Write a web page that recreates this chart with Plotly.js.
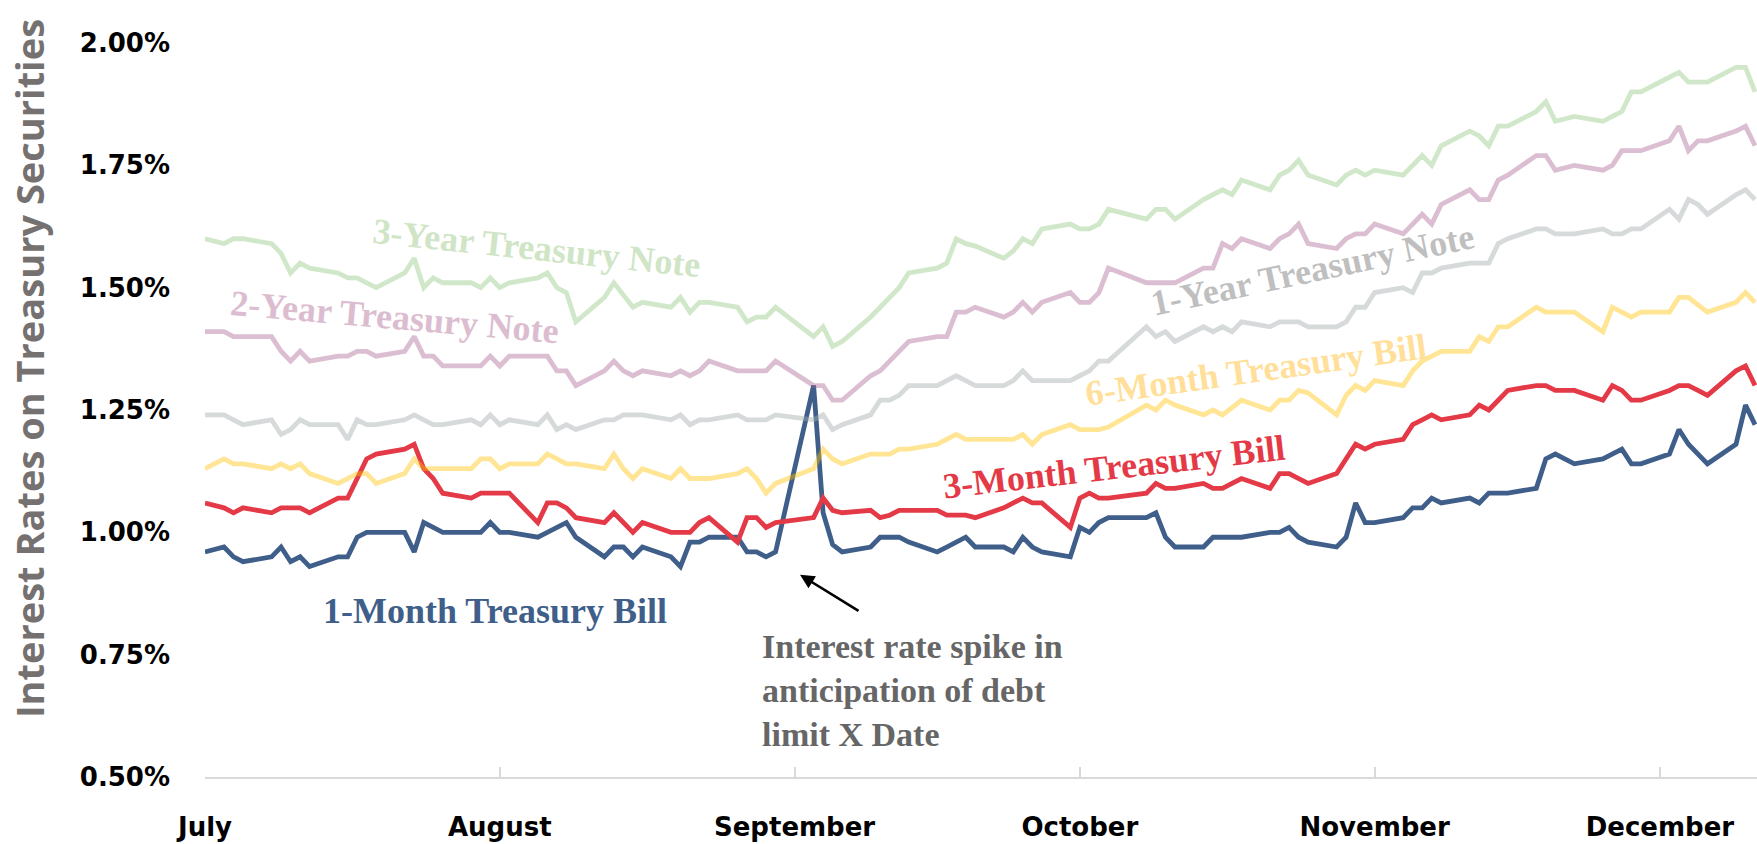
<!DOCTYPE html>
<html>
<head>
<meta charset="utf-8">
<script src="https://cdn.plot.ly/plotly-3.0.1.min.js"></script>
<style>
  html, body { margin: 0; padding: 0; background: #ffffff; }
  #chart { width: 1757px; height: 844px; }
</style>
</head>
<body>
<div id="chart"></div>
<script>
// Trading dates (Jul 3 – Dec 13, 2017)
const dates = [
  '2017-07-03','2017-07-05','2017-07-06','2017-07-07','2017-07-10','2017-07-11','2017-07-12','2017-07-13','2017-07-14','2017-07-17','2017-07-18','2017-07-19','2017-07-20','2017-07-21','2017-07-24','2017-07-25','2017-07-26','2017-07-27','2017-07-28','2017-07-31',
  '2017-08-01','2017-08-02','2017-08-03','2017-08-04','2017-08-07','2017-08-08','2017-08-09','2017-08-10','2017-08-11','2017-08-14','2017-08-15','2017-08-16','2017-08-17','2017-08-18','2017-08-21','2017-08-22','2017-08-23','2017-08-24','2017-08-25','2017-08-28','2017-08-29','2017-08-30','2017-08-31',
  '2017-09-01','2017-09-05','2017-09-06','2017-09-07','2017-09-08','2017-09-11','2017-09-12','2017-09-13','2017-09-14','2017-09-15','2017-09-18','2017-09-19','2017-09-20','2017-09-21','2017-09-22','2017-09-25','2017-09-26','2017-09-27','2017-09-28','2017-09-29',
  '2017-10-02','2017-10-03','2017-10-04','2017-10-05','2017-10-06','2017-10-10','2017-10-11','2017-10-12','2017-10-13','2017-10-16','2017-10-17','2017-10-18','2017-10-19','2017-10-20','2017-10-23','2017-10-24','2017-10-25','2017-10-26','2017-10-27','2017-10-30','2017-10-31',
  '2017-11-01','2017-11-02','2017-11-03','2017-11-06','2017-11-07','2017-11-08','2017-11-09','2017-11-10','2017-11-13','2017-11-14','2017-11-15','2017-11-16','2017-11-17','2017-11-20','2017-11-21','2017-11-22','2017-11-24','2017-11-27','2017-11-28','2017-11-29','2017-11-30',
  '2017-12-01','2017-12-04','2017-12-05','2017-12-06','2017-12-07','2017-12-08','2017-12-11','2017-12-12','2017-12-13'
];

// Interest rates (%)
const oneMonth = [
  0.96,0.97,0.95,0.94,0.95,0.97,0.94,0.95,0.93,0.95,0.95,0.99,1.00,1.00,1.00,0.96,1.02,1.01,1.00,1.00,
  1.00,1.02,1.00,1.00,0.99,1.00,1.01,1.02,0.99,0.95,0.97,0.97,0.95,0.97,0.95,0.93,0.98,0.98,0.99,0.99,0.96,0.96,0.95,
  0.96,1.30,1.04,0.975,0.96,0.97,0.99,0.99,0.99,0.98,0.96,0.97,0.98,0.99,0.97,0.97,0.96,0.99,0.97,0.96,
  0.95,1.01,1.00,1.02,1.03,1.03,1.04,0.99,0.97,0.97,0.99,0.99,0.99,0.99,1.00,1.00,1.01,0.99,0.98,0.97,0.99,
  1.06,1.02,1.02,1.03,1.05,1.05,1.07,1.06,1.07,1.06,1.08,1.08,1.08,1.09,1.15,1.16,1.14,1.15,1.16,1.17,1.14,
  1.14,1.16,1.21,1.18,1.16,1.14,1.18,1.26,1.22
];
const threeMonth = [
  1.06,1.05,1.04,1.05,1.04,1.05,1.05,1.05,1.04,1.07,1.07,1.11,1.15,1.16,1.17,1.18,1.13,1.11,1.08,1.07,
  1.08,1.08,1.08,1.08,1.02,1.06,1.06,1.05,1.03,1.02,1.04,1.02,1.00,1.02,1.00,1.00,1.00,1.02,1.03,0.98,1.03,1.03,1.01,
  1.02,1.03,1.07,1.045,1.04,1.045,1.03,1.035,1.045,1.045,1.045,1.035,1.035,1.035,1.03,1.05,1.06,1.07,1.06,1.06,
  1.01,1.07,1.08,1.07,1.07,1.08,1.10,1.09,1.09,1.10,1.09,1.09,1.10,1.11,1.09,1.12,1.12,1.11,1.10,1.12,1.15,
  1.18,1.17,1.18,1.19,1.22,1.23,1.24,1.23,1.24,1.26,1.25,1.27,1.29,1.30,1.30,1.29,1.29,1.27,1.30,1.29,1.27,
  1.27,1.29,1.30,1.30,1.29,1.28,1.33,1.34,1.30
];
const sixMonth = [
  1.13,1.15,1.14,1.14,1.13,1.14,1.13,1.14,1.12,1.10,1.11,1.12,1.12,1.10,1.12,1.15,1.13,1.13,1.13,1.13,
  1.15,1.15,1.13,1.14,1.14,1.16,1.15,1.14,1.14,1.13,1.16,1.13,1.11,1.13,1.11,1.13,1.11,1.11,1.11,1.12,1.13,1.11,1.08,
  1.10,1.13,1.17,1.15,1.14,1.16,1.16,1.16,1.17,1.17,1.18,1.19,1.20,1.19,1.19,1.19,1.19,1.20,1.18,1.20,
  1.22,1.21,1.21,1.21,1.215,1.26,1.25,1.27,1.26,1.24,1.25,1.24,1.255,1.27,1.25,1.27,1.27,1.29,1.285,1.24,1.28,
  1.30,1.29,1.31,1.30,1.33,1.35,1.36,1.37,1.37,1.40,1.39,1.42,1.42,1.46,1.45,1.45,1.45,1.41,1.46,1.45,1.44,
  1.45,1.45,1.48,1.48,1.465,1.45,1.47,1.49,1.47
];
const oneYear = [
  1.24,1.24,1.23,1.22,1.23,1.20,1.21,1.23,1.22,1.22,1.19,1.23,1.22,1.22,1.23,1.24,1.23,1.22,1.22,1.23,
  1.22,1.24,1.22,1.23,1.22,1.24,1.21,1.22,1.21,1.23,1.23,1.24,1.24,1.24,1.23,1.24,1.22,1.23,1.23,1.24,1.23,1.23,1.23,
  1.24,1.23,1.24,1.21,1.22,1.24,1.27,1.27,1.28,1.30,1.30,1.31,1.32,1.31,1.30,1.30,1.31,1.33,1.31,1.31,
  1.31,1.32,1.33,1.35,1.35,1.42,1.40,1.41,1.39,1.42,1.41,1.42,1.41,1.43,1.42,1.43,1.43,1.43,1.42,1.42,1.43,
  1.46,1.46,1.49,1.50,1.49,1.53,1.53,1.54,1.55,1.55,1.55,1.59,1.60,1.62,1.62,1.61,1.61,1.62,1.61,1.61,1.62,
  1.62,1.66,1.64,1.68,1.67,1.65,1.69,1.70,1.68
];
const twoYear = [
  1.41,1.41,1.40,1.40,1.40,1.37,1.35,1.37,1.35,1.36,1.36,1.37,1.37,1.36,1.37,1.40,1.36,1.36,1.34,1.34,
  1.34,1.36,1.34,1.36,1.36,1.36,1.33,1.33,1.30,1.33,1.35,1.33,1.32,1.33,1.32,1.33,1.32,1.33,1.35,1.33,1.33,1.33,1.33,
  1.35,1.30,1.30,1.27,1.27,1.32,1.33,1.35,1.37,1.39,1.40,1.40,1.45,1.45,1.46,1.44,1.45,1.47,1.45,1.47,
  1.49,1.47,1.47,1.49,1.54,1.51,1.51,1.51,1.51,1.54,1.54,1.59,1.58,1.60,1.58,1.60,1.61,1.63,1.59,1.58,1.60,
  1.61,1.61,1.63,1.61,1.63,1.65,1.63,1.67,1.70,1.68,1.68,1.72,1.73,1.77,1.77,1.74,1.75,1.74,1.75,1.78,1.78,
  1.78,1.80,1.83,1.78,1.80,1.80,1.82,1.83,1.79
];
const threeYear = [
  1.60,1.59,1.60,1.60,1.59,1.57,1.53,1.55,1.54,1.53,1.52,1.52,1.51,1.50,1.53,1.56,1.50,1.52,1.51,1.51,
  1.50,1.52,1.50,1.51,1.52,1.53,1.50,1.49,1.43,1.48,1.51,1.485,1.46,1.47,1.46,1.48,1.45,1.47,1.47,1.46,1.43,1.44,1.44,
  1.46,1.40,1.42,1.38,1.39,1.44,1.46,1.48,1.50,1.53,1.54,1.55,1.60,1.59,1.585,1.56,1.575,1.60,1.59,1.62,
  1.63,1.62,1.62,1.63,1.66,1.64,1.66,1.66,1.64,1.68,1.69,1.70,1.69,1.72,1.70,1.73,1.74,1.76,1.73,1.71,1.73,
  1.74,1.73,1.74,1.73,1.75,1.77,1.75,1.79,1.82,1.81,1.79,1.83,1.83,1.86,1.88,1.84,1.85,1.84,1.85,1.86,1.90,
  1.90,1.93,1.94,1.92,1.92,1.92,1.95,1.95,1.90
];

const seriesNames = ['1-Month Treasury Bill','3-Month Treasury Bill','6-Month Treasury Bill','1-Year Treasury Note','2-Year Treasury Note','3-Year Treasury Note'];

// Axis ticks
const monthTickDates = ['2017-07-03','2017-08-03','2017-09-03','2017-10-03','2017-11-03','2017-12-03'];
const monthTickLabels = ['July','August','September','October','November','December'];
const rateTickVals = [0.5,0.75,1.0,1.25,1.5,1.75,2.0];
const rateTickLabels = ['0.50%','0.75%','1.00%','1.25%','1.50%','1.75%','2.00%'];

const calloutText = 'Interest rate spike in<br>anticipation of debt<br>limit X Date';
const yTitle = 'Interest Rates on Treasury Securities';

// styles
const lineColors = ['#3f5f8a','#e43a47','rgba(255,192,0,0.42)','rgba(165,172,175,0.45)','rgba(166,92,140,0.40)','rgba(120,190,100,0.35)'];
const labelColors = ['#3f5f8a','#e43a47','#ffdf99','#bfbfbf','#dcbdd0','#cfe5c6'];
const seriesValues = [oneMonth, threeMonth, sixMonth, oneYear, twoYear, threeYear];

const traces = seriesValues.map((vals, i) => ({
  type: 'scatter',
  mode: 'lines',
  name: seriesNames[i],
  x: dates,
  y: vals,
  line: { color: lineColors[i], width: 4.8, shape: 'linear' },
  hoverinfo: 'skip'
}));

const serif = 'Liberation Serif, Times New Roman, serif';
// label placements (paper coords) and angles
const labelPos = [
  { x: 0.1869, y: 0.2260, a: 0 },
  { x: 0.5857, y: 0.4223, a: -6.5 },
  { x: 0.6772, y: 0.5546, a: -8 },
  { x: 0.7133, y: 0.6910, a: -12 },
  { x: 0.1218, y: 0.6268, a: 5 },
  { x: 0.2133, y: 0.7208, a: 6 }
];

const annotations = seriesNames.map((n, i) => ({
  xref: 'paper', yref: 'paper',
  x: labelPos[i].x, y: labelPos[i].y,
  xanchor: 'center', yanchor: 'middle',
  text: n, showarrow: false, textangle: labelPos[i].a,
  font: { family: serif, size: 36, color: labelColors[i], weight: 'bold' }
}));

annotations.push({
  xref: 'paper', yref: 'paper',
  x: 0.3576, y: 0.1181, xanchor: 'left', yanchor: 'middle', align: 'left',
  text: calloutText, showarrow: false,
  font: { family: serif, size: 34, color: '#666666', weight: 'bold' }
});
annotations.push({
  xref: 'paper', yref: 'paper',
  x: 0.3834, y: 0.2755, text: '', showarrow: true,
  ax: 60, ay: 37, arrowhead: 2, arrowsize: 1.1, arrowwidth: 2.6, arrowcolor: '#000000'
});
annotations.push({
  xref: 'paper', yref: 'paper',
  x: -0.1134, y: 0.5559, xanchor: 'center', yanchor: 'middle',
  text: yTitle, showarrow: false, textangle: -90,
  font: { family: 'Open Sans, sans-serif', size: 38, color: '#757171', weight: 'bold' }
});

const tickFont = { family: 'DejaVu Sans, sans-serif', size: 26, color: '#000000', weight: 'bold' };

const layout = {
  width: 1757, height: 844,
  margin: { l: 205, r: 0, t: 43, b: 67 },
  paper_bgcolor: '#ffffff', plot_bgcolor: '#ffffff',
  showlegend: false,
  xaxis: {
    type: 'date',
    range: ['2017-07-03', '2017-12-13 05:00'],
    tickmode: 'array', tickvals: monthTickDates, ticktext: monthTickLabels,
    showgrid: false, zeroline: false,
    showline: true, linecolor: '#d9d9d9', linewidth: 2,
    ticks: 'inside', ticklen: 10, tickwidth: 2, tickcolor: '#d9d9d9',
    tickfont: tickFont, ticklabelstandoff: 26,
    fixedrange: true
  },
  yaxis: {
    range: [0.5, 2.0],
    tickmode: 'array', tickvals: rateTickVals, ticktext: rateTickLabels,
    showgrid: false, zeroline: false, showline: false, ticks: '',
    tickfont: tickFont, ticklabelstandoff: 34,
    fixedrange: true
  },
  annotations: annotations
};

Plotly.newPlot('chart', traces, layout, { displayModeBar: false, staticPlot: true });
</script>
</body>
</html>
